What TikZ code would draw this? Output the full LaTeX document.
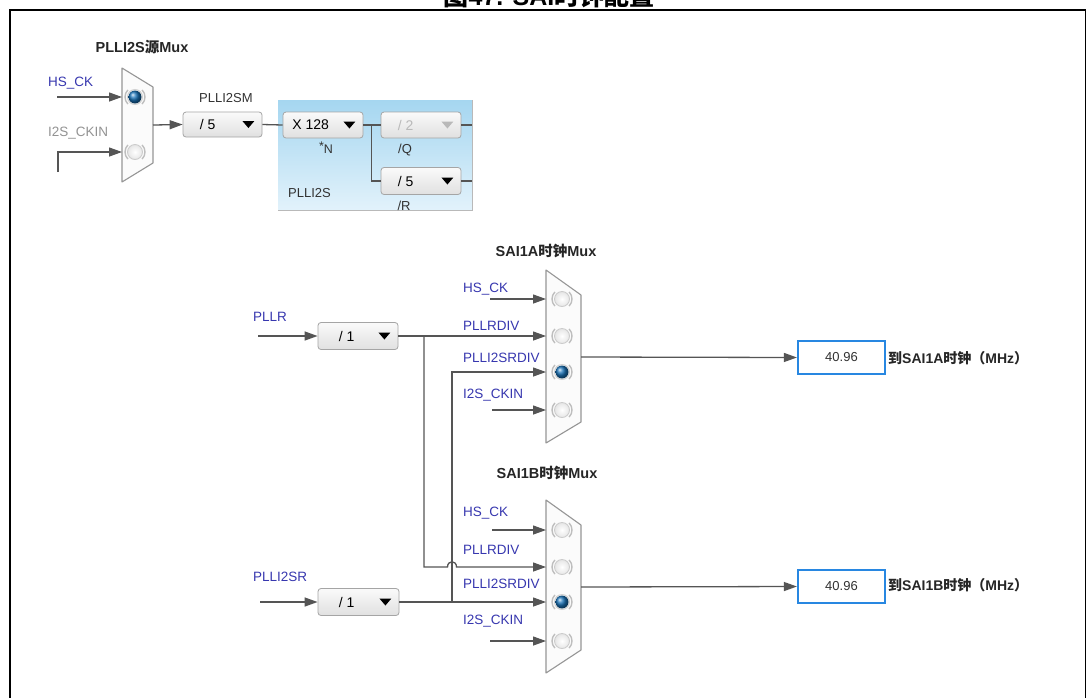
\documentclass[tikz,border=0pt]{standalone}
\usepackage{fontspec}
\setmainfont{Liberation Sans}
\newfontfamily\cjk{Noto Sans CJK SC}
\usetikzlibrary{arrows.meta}
\definecolor{lblue}{RGB}{55,55,175}
\definecolor{wirec}{RGB}{85,85,85}
\definecolor{muxc}{RGB}{150,150,150}
\definecolor{ringc}{RGB}{190,190,190}
\definecolor{ballc}{RGB}{25,115,185}
\definecolor{paneltop}{RGB}{165,214,240}
\definecolor{panelbot}{RGB}{226,242,251}
\definecolor{outblue}{RGB}{40,135,225}
\definecolor{ddborder}{RGB}{165,165,165}
\definecolor{txtdark}{RGB}{50,50,50}
\newcommand{\zh}[1]{{\cjk #1}}
\newcommand{\ddbox}[8]{%
  % #1 name, #2 cx, #3 cy, #4 w, #5 h, #6 label, #7 text offset, #8 text colour
  \node[ddstyle, minimum width=#4pt, minimum height=#5pt] (#1) at (#2,#3) {};
  \node[ddtxt, text=#8] (#1t) at ([xshift=#7pt]#1.west) {#6};
  \fill[#8] ([xshift=-20pt,yshift=3.5pt]#1.east) -- ++(12,0) -- ++(-6,7) -- cycle;
}
\newcommand{\rbtnring}[2]{%
  \draw[ringc, line width=1.4pt] (#1,#2) ++(135:10) arc[start angle=135, end angle=225, radius=10];
  \draw[ringc, line width=1.4pt] (#1,#2) ++(-45:10) arc[start angle=-45, end angle=45, radius=10];
}
\newcommand{\rbtnon}[2]{%
  \rbtnring{#1}{#2}
  \draw[gray!35, line width=1pt] (#1,#2) circle (7.5);
  \shade[ball color=ballc] (#1,#2) circle (6.5);
}
\newcommand{\rbtnoff}[2]{%
  \rbtnring{#1}{#2}
  \shadedraw[inner color=white, outer color=gray!20, draw=gray!40, line width=0.9pt] (#1,#2) circle (7.5);
}
\tikzset{
  ddstyle/.style={draw=ddborder, line width=0.8pt, rounded corners=3pt, top color=white!96!gray, bottom color=gray!24, inner sep=0pt},
  ddtxt/.style={font=\fontsize{14}{16}\selectfont, inner sep=0pt},
  wire/.style={draw=wirec, line width=1.3pt},
  arr/.style={wire, -{Triangle[length=13pt,width=9pt]}},
  muxshape/.style={draw=muxc, fill=white!97!gray, line width=1.1pt, line join=round},
  blbl/.style={text=lblue, font=\fontsize{13.5}{15}\selectfont, anchor=west, inner sep=0pt},
  ttl/.style={font=\fontsize{14.5}{16}\selectfont\bfseries, inner sep=0pt, text=black!85},
  outbox/.style={draw=outblue, line width=2.2pt, minimum width=87pt, minimum height=33pt, inner sep=0pt, font=\fontsize{13}{15}\selectfont, text=txtdark},
  outlbl/.style={font=\fontsize{14}{16}\selectfont\bfseries, anchor=west, inner sep=0pt, text=black!85}
}
\begin{document}
\begin{tikzpicture}[x=1pt,y=-1pt]
\useasboundingbox (0,0) rectangle (1086,697);
\fill[white] (0,0) rectangle (1086,697);
% frame and title
\draw[black, line width=2pt] (10,705) -- (10,10) -- (1085.5,10) -- (1085.5,705);
\node[anchor=base, inner sep=0pt, font=\fontsize{25}{28}\selectfont\bfseries] (title) at (549,5.5) {\zh{图}47. SAI\zh{时钟配置}};

% ---------- top section ----------
\node[ttl] (t0) at (142,47) {PLLI2S\zh{源}Mux};
\draw[muxshape] (122,68) -- (153,87) -- (153,163) -- (122,182) -- cycle;
\coordinate (m0a) at (122,97);
\coordinate (m0b) at (122,152);
\coordinate (m0o) at (153,125);
\rbtnon{135}{97}
\rbtnoff{135}{152}
\node[blbl] (hs0) at (48,83) {HS\_CK};
\node[blbl, text=gray!85] (ck0) at (48,133) {I2S\_CKIN};
\coordinate (hs0s) at (57,97);
\coordinate (ck0s) at (58,172);
\draw[arr] (hs0s) -- (m0a);
\draw[arr] (ck0s) -- (58,152) -- (m0b);

\node[anchor=west, inner sep=0pt, text=txtdark, font=\fontsize{13}{15}\selectfont] (pllmL) at (199,98) {PLLI2SM};
\ddbox{pllm}{222.5}{124.5}{79}{25}{/ 5}{25}{black}

% PLLI2S panel
\shade[top color=paneltop, bottom color=panelbot] (278,100) rectangle (472,210);
\draw[gray!55, line width=1pt] (472,100) -- (472,210) -- (278,210);
\ddbox{plln}{323}{125}{80}{26}{X 128}{28}{black}
\ddbox{pllq}{421}{125}{80}{26}{/ 2}{25}{gray!55}
\ddbox{pllr}{421}{181}{80}{27}{/ 5}{25}{black}
\node[inner sep=0pt, text=txtdark, font=\fontsize{12.5}{14}\selectfont] (nlbl) at (326,148) {\raisebox{3pt}{*}N};
\node[inner sep=0pt, text=txtdark, font=\fontsize{13}{14}\selectfont] (qlbl) at (405,150) {/Q};
\node[inner sep=0pt, text=txtdark, font=\fontsize{13}{14}\selectfont] (rlbl) at (404,206) {/R};
\node[anchor=west, inner sep=0pt, text=txtdark, font=\fontsize{13}{15}\selectfont] (pll2s) at (288,193) {PLLI2S};
\coordinate (jn1) at (371.5,125);
\coordinate (qout) at (472,125);
\coordinate (rout) at (472,181);
\draw[arr] (m0o) -- (pllm.west);
\draw[wire] (pllm.east) -- (plln.west);
\draw[wire] (plln.east) -- (jn1) -- (pllq.west);
\draw[wire] (jn1) |- (pllr.west);
\draw[wire] (pllq.east) -- (qout);
\draw[wire] (pllr.east) -- (rout);

% ---------- SAI1A mux ----------
\node[ttl] (ta) at (546,251) {SAI1A\zh{时钟}Mux};
\draw[muxshape] (546,270) -- (581,295) -- (581,422) -- (546,443) -- cycle;
\coordinate (ma1) at (546,299);
\coordinate (ma2) at (546,336);
\coordinate (ma3) at (546,372);
\coordinate (ma4) at (546,410);
\coordinate (mao) at (581,357);
\rbtnoff{562}{299}
\rbtnoff{562}{336}
\rbtnon{562}{372}
\rbtnoff{562}{410}
\node[blbl] (la1) at (463,289) {HS\_CK};
\node[blbl] (la2) at (463,326) {PLLRDIV};
\node[blbl] (la3) at (463,358) {PLLI2SRDIV};
\node[blbl] (la4) at (463,395) {I2S\_CKIN};

\node[blbl] (pllr) at (253,317) {PLLR};
\coordinate (pllrs) at (258,336);
\ddbox{diva}{358}{336}{80}{27}{/ 1}{29}{black}
\draw[arr] (pllrs) -- (diva.west);

\coordinate (sa1) at (490,299);
\coordinate (sa4) at (492,410);
\draw[arr] (sa1) -- (ma1);
\draw[arr] (diva.east) -- (ma2);
\draw[arr] (sa4) -- (ma4);

\node[outbox] (outa) at (841.5,357.5) {40.96};
\draw[arr] (mao) -- (outa.west);
\node[outlbl] (outal) at (888,358) {\zh{到}SAI1A\zh{时钟（}MHz\zh{）}};

% ---------- SAI1B mux ----------
\node[ttl] (tb) at (547,473) {SAI1B\zh{时钟}Mux};
\draw[muxshape] (546,500) -- (581,525) -- (581,650) -- (546,673) -- cycle;
\coordinate (mb1) at (546,530);
\coordinate (mb2) at (546,567);
\coordinate (mb3) at (546,602);
\coordinate (mb4) at (546,641);
\coordinate (mbo) at (581,587);
\rbtnoff{562}{530}
\rbtnoff{562}{567}
\rbtnon{562}{602}
\rbtnoff{562}{641}
\node[blbl] (lb1) at (463,513) {HS\_CK};
\node[blbl] (lb2) at (463,550) {PLLRDIV};
\node[blbl] (lb3) at (463,584) {PLLI2SRDIV};
\node[blbl] (lb4) at (463,621) {I2S\_CKIN};

\node[blbl] (plli2sr) at (253,577) {PLLI2SR};
\coordinate (plli2srs) at (260,602);
\ddbox{divb}{358.5}{602}{81}{27}{/ 1}{29}{black}
\draw[arr] (plli2srs) -- (divb.west);

\coordinate (sb1) at (492,530);
\coordinate (sb4) at (490,641);
\draw[arr] (sb1) -- (mb1);
\draw[arr] (divb.east) -- (mb3);
\draw[arr] (sb4) -- (mb4);

% cross connections
\coordinate (ja) at (424,336);
\coordinate (jb) at (452,602);
\draw[arr] (ja) -- (424,567) -- (447.5,567) .. controls (447.5,560) and (456.5,560) .. (456.5,567) -- (mb2);
\draw[arr] (jb) -- (452,372) -- (ma3);

\node[outbox] (outb) at (841.5,586.5) {40.96};
\draw[arr] (mbo) -- (outb.west);
\node[outlbl] (outbl) at (888,585) {\zh{到}SAI1B\zh{时钟（}MHz\zh{）}};
\end{tikzpicture}
\end{document}
